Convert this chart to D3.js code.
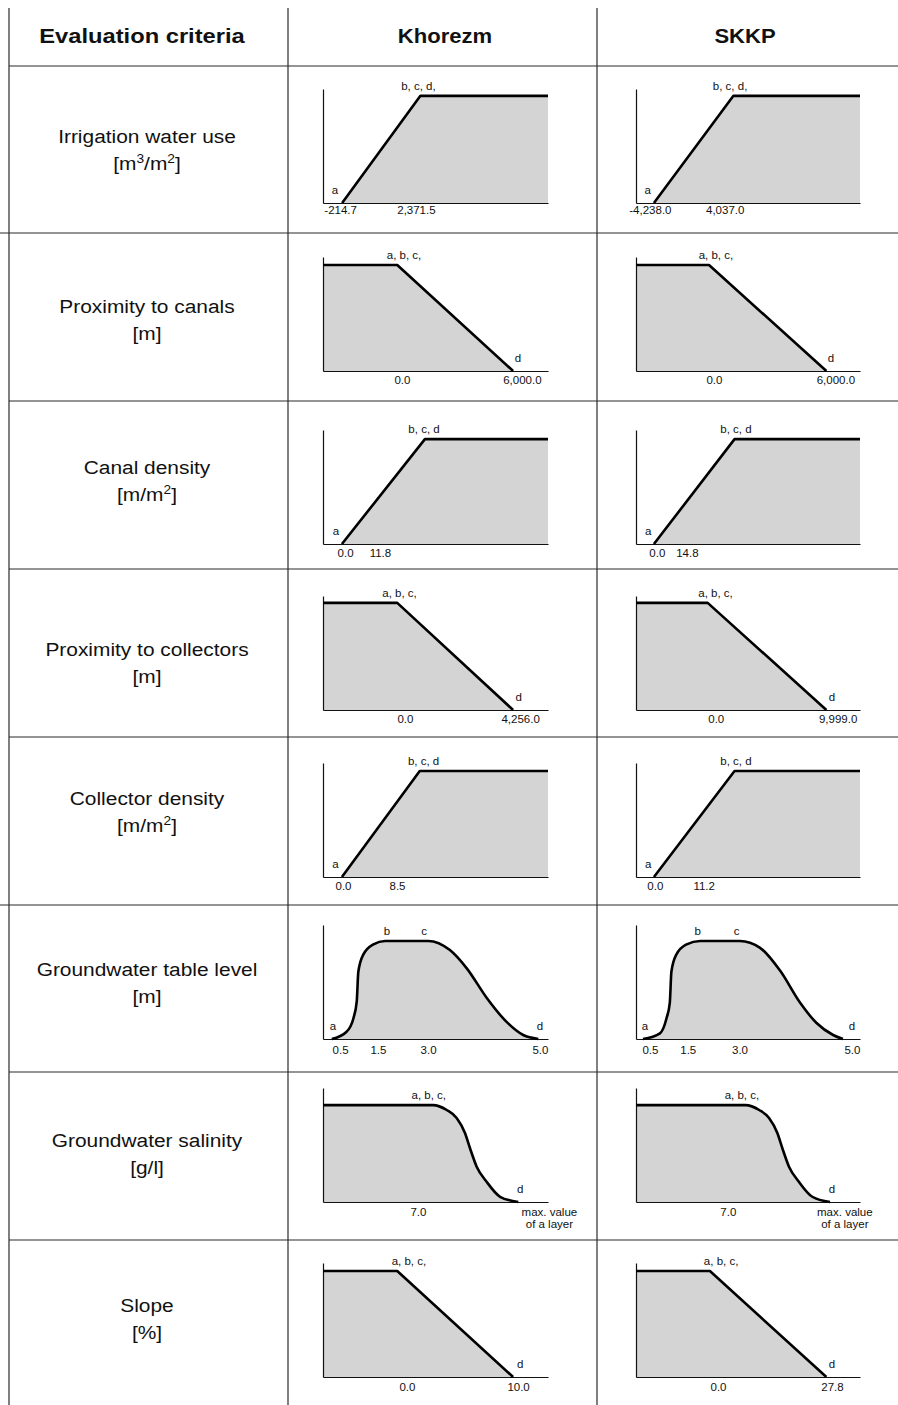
<!DOCTYPE html>
<html>
<head>
<meta charset="utf-8">
<script src="https://cdn.jsdelivr.net/npm/d3@7"></script>
<style>
    body { margin: 0; background: #fff; }
    svg text { font-family: "Liberation Sans", Arial, sans-serif; fill: #111; }
</style>
</head>
<body>
<div id="chart"></div>
<script>
// ----------------- DATA -----------------
const headers = ["Evaluation criteria", "Khorezm", "SKKP"];

const criteria = [
    "Irrigation water use", "Proximity to canals", "Canal density",
    "Proximity to collectors", "Collector density", "Groundwater table level",
    "Groundwater salinity", "Slope"
];
// "^" marks a superscript digit
const units = ["[m^3/m^2]", "[m]", "[m/m^2]", "[m]", "[m/m^2]", "[m]", "[g/l]", "[%]"];

// smooth rows use a curved membership function
const smoothRows = [false, false, false, false, false, true, true, false];

// membership functions, schematic x (0-100) vs membership (0-100)
const khorezmPoints = [
    [[8.5, 0], [43.3, 94], [100, 94]],
    [[0, 93], [33, 93], [84.5, 0]],
    [[8.4, 0], [45.3, 92], [100, 92]],
    [[0, 94], [33, 94], [84.5, 0]],
    [[8.4, 0], [43, 93], [100, 93]],
    [[3.9, 0], [10.5, 6.4], [13.5, 18], [15, 33], [15.7, 59], [17.9, 74], [22.4, 83], [27.6, 86],
     [46.8, 86], [56.4, 78], [63.9, 62], [72.8, 36], [81.6, 15], [89, 3.5], [95.7, 0]],
    [[0, 85], [48.9, 85], [55, 80.7], [59.4, 73.7], [63.1, 60.5], [65.3, 47.4], [68.3, 31],
     [72.7, 17.8], [78.7, 4.6], [86.8, 0]],
    [[0, 93], [33, 93], [84.5, 0]]
];
const skkpPoints = [
    [[8, 0], [43.5, 94], [100, 94]],
    [[0, 93], [32.6, 93], [85, 0]],
    [[8, 0], [44, 92], [100, 92]],
    [[0, 94], [32, 94], [85, 0]],
    [[8, 0], [44, 93], [100, 93]],
    [[3.1, 0], [10.7, 5], [13.6, 18], [15.1, 32], [15.8, 59], [18, 74], [22.6, 83], [28.6, 86],
     [46.4, 86], [55.4, 80], [64.3, 60], [73.2, 32], [80.6, 14], [88, 3.5], [92.4, 0]],
    [[0, 85], [48.9, 85], [55, 80.7], [59.4, 73.7], [63.1, 60.5], [65.3, 47.4], [68.3, 31],
     [72.7, 17.8], [78.7, 4.6], [86.6, 0]],
    [[0, 93], [33, 93], [85, 0]]
];

// tick labels under the x axis: [schematic position, text]
const khorezmTicks = [
    [[7.6, "-214.7"], [41.3, "2,371.5"]],
    [[35.1, "0.0"], [88.4, "6,000.0"]],
    [[9.8, "0.0"], [25.3, "11.8"]],
    [[36.4, "0.0"], [87.6, "4,256.0"]],
    [[8.9, "0.0"], [32.9, "8.5"]],
    [[7.6, "0.5"], [24.4, "1.5"], [46.7, "3.0"], [96.4, "5.0"]],
    [[42.2, "7.0"], [100.4, "max. value\nof a layer"]],
    [[37.3, "0.0"], [86.7, "10.0"]]
];
const skkpTicks = [
    [[6.2, "-4,238.0"], [39.6, "4,037.0"]],
    [[34.8, "0.0"], [89, "6,000.0"]],
    [[9.3, "0.0"], [22.7, "14.8"]],
    [[35.6, "0.0"], [90, "9,999.0"]],
    [[8.4, "0.0"], [30.2, "11.2"]],
    [[6.2, "0.5"], [23.1, "1.5"], [46.2, "3.0"], [96.4, "5.0"]],
    [[41, "7.0"], [93, "max. value\nof a layer"]],
    [[36.6, "0.0"], [87.5, "27.8"]]
];

// point labels: [schematic x, membership, text]
const khorezmLabels = [
    [[5.3, 0, "a"], [42.4, 94, "b, c, d,"]],
    [[36, 93, "a, b, c,"], [86.7, 0, "d"]],
    [[5.8, 0, "a"], [44.9, 92, "b, c, d"]],
    [[34, 94, "a, b, c,"], [87, 0, "d"]],
    [[5.5, 0, "a"], [44.7, 93, "b, c, d"]],
    [[4.4, 0, "a"], [28.4, 86, "b"], [44.9, 86, "c"], [96.4, 0, "d"]],
    [[47, 85, "a, b, c,"], [87.6, 0, "d"]],
    [[38.2, 93, "a, b, c,"], [87.6, 0, "d"]]
];
const skkpLabels = [
    [[5.2, 0, "a"], [42, 94, "b, c, d,"]],
    [[35.7, 93, "a, b, c,"], [87, 0, "d"]],
    [[5.5, 0, "a"], [44.6, 92, "b, c, d"]],
    [[35.5, 94, "a, b, c,"], [87.5, 0, "d"]],
    [[5.5, 0, "a"], [44.6, 93, "b, c, d"]],
    [[4, 0, "a"], [27.6, 86, "b"], [44.9, 86, "c"], [96.4, 0, "d"]],
    [[47.3, 85, "a, b, c,"], [87.5, 0, "d"]],
    [[38, 93, "a, b, c,"], [87.5, 0, "d"]]
];

// ----------------- LAYOUT -----------------
const W = 898, H = 1405;
const colLines = [9, 288, 597];
const rowLines = [66, 233, 401, 569, 737, 905, 1072, 1240];
const baselines = [203, 371, 544, 710, 877, 1039, 1202, 1377];
const tickPads = [3, 5, 5, 5, 5, 7, 6, 6];
const nameY = [143, 313, 474, 656, 805, 976, 1147, 1312];
const panelX = [[323, 548], [636, 860]];
const axisH = 114;

const svg = d3.select("#chart").append("svg")
    .attr("width", W)
    .attr("height", H);

// table grid
svg.selectAll("line.row")
    .data(rowLines)
    .join("line")
    .attr("class", "row")
    .attr("x1", (d, i) => (i === 1 || i === 5 ? 0 : colLines[0]))
    .attr("x2", W)
    .attr("y1", d => d).attr("y2", d => d)
    .attr("stroke", "#2a2a2a").attr("stroke-width", 1.2);

svg.selectAll("line.col")
    .data(colLines)
    .join("line")
    .attr("class", "col")
    .attr("x1", d => d).attr("x2", d => d)
    .attr("y1", 8).attr("y2", H)
    .attr("stroke", "#2a2a2a").attr("stroke-width", 1.2);

// header
const headerX = [142, 445, 745];
headers.forEach((h, i) => {
    svg.append("text")
        .attr("transform", `translate(${headerX[i]},43) scale(${i === 0 ? 1.13 : 1.05},1)`)
        .attr("text-anchor", "middle")
        .attr("font-size", 21)
        .attr("font-weight", "bold")
        .text(h);
});

// criteria names + units
function addUnit(sel, str) {
    let lift = 0;
    str.split(/(\^\d)/).filter(s => s).forEach(part => {
        if (part[0] === "^") {
            sel.append("tspan").attr("dy", -7).attr("font-size", 12.5).text(part[1]);
            lift = 7;
        } else {
            sel.append("tspan").attr("dy", lift).text(part);
            lift = 0;
        }
    });
}

criteria.forEach((c, i) => {
    const g = svg.append("g")
        .attr("transform", `translate(147,${nameY[i]}) scale(1.1,1)`);
    g.append("text")
        .attr("text-anchor", "middle")
        .attr("font-size", 19)
        .text(c);
    const u = g.append("text")
        .attr("text-anchor", "middle")
        .attr("font-size", 19)
        .attr("y", 27);
    addUnit(u, units[i]);
});

// membership panels
function drawPanel(row, col, points, ticks, labels) {
    const [x0, x1] = panelX[col];
    const base = baselines[row];

    const x = d3.scaleLinear().domain([0, 100]).range([x0, x1]);
    const y = d3.scaleLinear().domain([0, 100]).range([base, base - axisH]);
    const curve = smoothRows[row] ? d3.curveMonotoneX : d3.curveLinear;

    const g = svg.append("g");

    g.append("path")
        .datum(points)
        .attr("fill", "#d4d4d4")
        .attr("d", d3.area()
            .x(d => x(d[0]))
            .y0(base)
            .y1(d => y(d[1]))
            .curve(curve));

    // x axis with tick labels
    const xAxis = g.append("g")
        .attr("transform", `translate(0,${base})`)
        .call(d3.axisBottom(x)
            .tickValues(ticks.map(t => t[0]))
            .tickFormat((d, i) => ticks[i][1])
            .tickSize(0)
            .tickSizeOuter(0)
            .tickPadding(tickPads[row]));
    xAxis.select(".domain").attr("stroke", "#111").attr("stroke-width", 1.2);
    xAxis.selectAll(".tick text")
        .attr("font-size", 11.5)
        .attr("font-family", "Liberation Sans, Arial, sans-serif")
        .attr("fill", "#111")
        .each(function (d, i) {
            const lines = ticks[i][1].split("\n");
            if (lines.length > 1) {
                const t = d3.select(this).text(null);
                lines.forEach((ln, k) => {
                    t.append("tspan").attr("x", 0).attr("dy", k === 0 ? "0.71em" : "1.0em").text(ln);
                });
                t.attr("dy", null);
            }
        });

    // y axis
    const yAxis = g.append("g")
        .attr("transform", `translate(${x0},0)`)
        .call(d3.axisLeft(y).tickValues([]).tickSizeOuter(0));
    yAxis.select(".domain").attr("stroke", "#111").attr("stroke-width", 1.2);

    g.append("path")
        .datum(points)
        .attr("fill", "none")
        .attr("stroke", "#000")
        .attr("stroke-width", 2.6)
        .attr("stroke-linejoin", "round")
        .attr("d", d3.line()
            .x(d => x(d[0]))
            .y(d => y(d[1]))
            .curve(curve));

    g.selectAll("text.pt")
        .data(labels)
        .join("text")
        .attr("class", "pt")
        .attr("x", d => x(d[0]))
        .attr("y", d => y(d[1]) - (d[1] > 50 ? 6 : 9))
        .attr("text-anchor", "middle")
        .attr("font-size", 11.5)
        .text(d => d[2]);
}

criteria.forEach((c, i) => {
    drawPanel(i, 0, khorezmPoints[i], khorezmTicks[i], khorezmLabels[i]);
    drawPanel(i, 1, skkpPoints[i], skkpTicks[i], skkpLabels[i]);
});
</script>
</body>
</html>
